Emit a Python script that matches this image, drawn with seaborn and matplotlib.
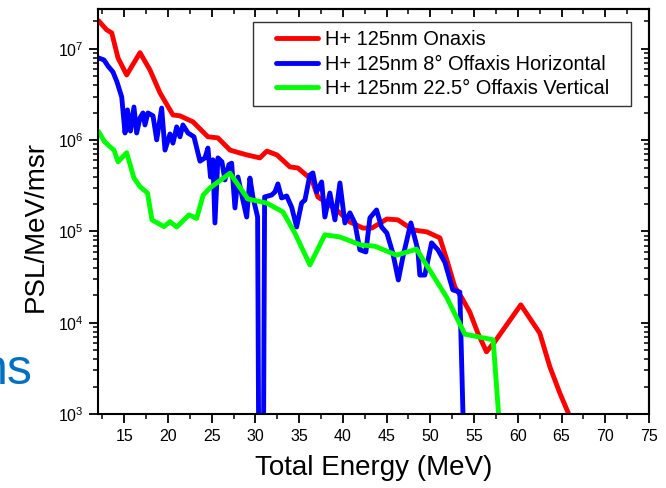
import numpy as np
import pandas as pd
import matplotlib
matplotlib.use("Agg")
import matplotlib.pyplot as plt
import seaborn as sns
from matplotlib.ticker import MultipleLocator, LogLocator, NullFormatter, FuncFormatter
from matplotlib.legend_handler import HandlerLine2D
from matplotlib.lines import Line2D

# ---------------- data ----------------
labels = ["H+ 125nm Onaxis",
          "H+ 125nm 8° Offaxis Horizontal",
          "H+ 125nm 22.5° Offaxis Vertical"]
colors = ["#FF0000", "#0000FF", "#00FF00"]

red_E = [12.08, 12.99, 13.57, 14.29, 15.28, 16.8, 17.94, 19.09, 20.57, 21.37, 22.86,
         24.57, 25.71, 27.09, 27.89, 29.03, 30.51, 31.31, 32.46, 33.94, 34.86, 36.46,
         37.14, 38.17, 39.66, 40.8, 42.29, 43.31, 45.03, 46.29, 48.0, 49.6, 51.09,
         51.89, 52.8, 53.6, 54.51, 55.43, 56.42, 57.37, 60.34, 62.51, 63.66, 64.8, 66.8]
red_v = [2.03e7, 1.62e7, 1.5e7, 7.96e6, 5.19e6, 9.1e6, 5.89e6, 3.3e6, 1.89e6, 1.85e6, 1.59e6,
         1.09e6, 1.06e6, 7.8e5, 7.4e5, 6.9e5, 6.4e5, 7.6e5, 6.9e5, 5.1e5, 4.96e5, 3.67e5,
         2.39e5, 2.05e5, 1.6e5, 1.27e5, 1.09e5, 1.09e5, 1.37e5, 1.34e5, 1.04e5, 9.9e4, 8.5e4,
         4.87e4, 2.47e4, 1.87e4, 1.31e4, 7.7e3, 4.8e3, 6.2e3, 1.57e4, 7.7e3, 3.3e3, 1.7e3, 6e2]

blue_E = [12.08, 12.69, 13.14, 13.71, 14.17, 14.71, 15.09, 15.37, 15.71, 16.11, 16.42,
          16.8, 17.14, 17.37, 17.71, 18.29, 18.71, 19.28, 19.66, 20.23, 20.57, 21.0,
          21.37, 21.71, 22.29, 22.97, 23.66, 24.23, 24.57, 24.86, 25.14, 25.37, 25.71,
          26.17, 26.51, 26.97, 27.28, 27.66, 28.0, 28.57, 29.0, 29.37, 29.71, 30.25,
          30.65, 31.05, 31.85, 32.23, 32.57, 32.99, 33.57, 34.14, 34.71, 35.28, 35.66,
          36.23, 36.57, 36.99, 37.57, 37.94, 38.51, 39.09, 39.66, 40.23, 40.8, 41.37,
          41.94, 42.63, 43.09, 43.85, 44.42, 45.03, 45.71, 46.34, 46.86, 47.77, 48.57,
          48.8, 49.37, 50.14, 50.86, 51.66, 52.57, 53.37, 54.0]
blue_v = [7.96e6, 7.57e6, 6.5e6, 5.6e6, 4.35e6, 2.98e6, 1.2e6, 2.15e6, 1.26e6, 2.31e6, 1.2e6,
          1.75e6, 1.99e6, 1.47e6, 1.99e6, 1.85e6, 1.01e6, 2.25e6, 7.8e5, 1.17e6, 9.3e5, 1.4e6,
          1.09e6, 1.47e6, 1.2e6, 1.09e6, 5.9e5, 6.4e5, 8.2e5, 3.95e5, 6.1e5, 1.24e5, 6.4e5,
          5.8e5, 3.67e5, 5.4e5, 5.6e5, 1.81e5, 3.95e5, 2.2e5, 1.44e5, 3.85e5, 2.39e5, 1.44e5,
          1e-3, 2.39e5, 2.51e5, 2.71e5, 3.32e5, 2.33e5, 2.45e5, 1.85e5, 1.12e5, 2.05e5, 2.21e5,
          4.16e5, 4.38e5, 2.71e5, 3.49e5, 1.44e5, 2.64e5, 1.34e5, 3.4e5, 1.24e5, 1.6e5, 1.24e5,
          6.3e4, 5.96e4, 1.41e5, 1.72e5, 1.12e5, 9.6e4, 5.8e4, 2.94e4, 5.26e4, 1.24e5, 6.3e4,
          3.33e4, 3.33e4, 7.5e4, 6.3e4, 4.6e4, 2.29e4, 2.17e4, 1e2]

green_E = [12.08, 12.69, 13.26, 13.83, 14.29, 15.28, 16.11, 16.8, 17.66, 18.17, 19.54,
           20.23, 21.0, 22.4, 23.28, 24.03, 24.8, 27.09, 29.14, 31.28, 33.14, 34.51,
           36.23, 37.94, 39.66, 42.06, 43.66, 46.14, 48.42, 50.14, 51.85, 53.94, 57.18, 58.2]
green_v = [1.24e6, 9.8e5, 8.65e5, 7.8e5, 5.8e5, 7.3e5, 3.85e5, 3.1e5, 2.64e5, 1.34e5, 1.13e5,
           1.28e5, 1.12e5, 1.52e5, 1.39e5, 2.51e5, 3.0e5, 4.35e5, 2.27e5, 2.05e5, 1.64e5, 9.6e4,
           4.3e4, 9.2e4, 8.7e4, 7.1e4, 6.9e4, 5.5e4, 6.4e4, 3.5e4, 1.91e4, 7.5e3, 6.5e3, 3e2]

x_ticks = [15, 20, 25, 30, 35, 40, 45, 50, 55, 60, 65, 70, 75]
y_ticks = [1e3, 1e4, 1e5, 1e6, 1e7]

# ---------------- style ----------------
sns.set_style("ticks")
plt.rcParams["font.family"] = ["Liberation Sans", "DejaVu Sans"]
plt.rcParams["mathtext.fontset"] = "custom"
plt.rcParams["mathtext.rm"] = "Liberation Sans"
plt.rcParams["mathtext.it"] = "Liberation Sans:italic"
plt.rcParams["mathtext.bf"] = "Liberation Sans:bold"
plt.rcParams["axes.linewidth"] = 1.5
plt.rcParams["axes.edgecolor"] = "black"
plt.rcParams["text.color"] = "black"
plt.rcParams["xtick.color"] = "black"
plt.rcParams["ytick.color"] = "black"
plt.rcParams["axes.labelcolor"] = "black"

fig = plt.figure(figsize=(6.66, 4.88), dpi=100)
ax = fig.add_axes([98 / 666, 1 - 414 / 488, 551 / 666, 405 / 488])

for E, v, c, lab in [(red_E, red_v, colors[0], labels[0]),
                     (blue_E, blue_v, colors[1], labels[1]),
                     (green_E, green_v, colors[2], labels[2])]:
    df = pd.DataFrame({"E": E, "v": v})
    sns.lineplot(data=df, x="E", y="v", estimator=None, sort=False,
                 color=c, lw=3.5, label=lab, ax=ax)

ax.set_yscale("log")
ax.set_xlim(12, 75)
ax.set_ylim(1e3, 2.74e7)

# ticks
ax.set_xticks(x_ticks)
ax.xaxis.set_minor_locator(MultipleLocator(2.5))
ax.set_yticks(y_ticks)
ax.yaxis.set_minor_locator(LogLocator(base=10, subs=np.arange(2, 10), numticks=30))
ax.yaxis.set_minor_formatter(NullFormatter())
ax.yaxis.set_major_formatter(FuncFormatter(
    lambda v, p: r"$\mathregular{10^{%d}}$" % int(round(np.log10(v)))))
ax.tick_params(which="major", direction="out", length=6.5, width=1.3,
               labelsize=11.5, pad=4)
ax.tick_params(which="minor", direction="out", length=3.5, width=1.1)
ax.tick_params(axis="x", top=False)
ax.tick_params(axis="y", right=False)

top = ax.secondary_xaxis("top")
top.set_xticks(x_ticks)
top.xaxis.set_minor_locator(MultipleLocator(2.5))
top.tick_params(which="major", direction="in", length=6, width=1.3, labeltop=False)
top.tick_params(which="minor", direction="in", length=3.5, width=1.1)

right = ax.secondary_yaxis("right")
right.set_yticks(y_ticks)
right.yaxis.set_minor_locator(LogLocator(base=10, subs=np.arange(2, 10), numticks=30))
right.yaxis.set_minor_formatter(NullFormatter())
right.tick_params(which="major", direction="in", length=6, width=1.3, labelright=False)
right.tick_params(which="minor", direction="in", length=3.5, width=1.1)

# labels
ax.set_xlabel("Total Energy (MeV)", fontsize=20)
ax.xaxis.set_label_coords(0.5, -0.101)
ax.set_ylabel("PSL/MeV/msr", fontsize=20)
ax.yaxis.set_label_coords(-0.089, 0.464)

# legend
handles, labs = ax.get_legend_handles_labels()
leg = ax.legend(handles, labs, loc="upper left",
                bbox_to_anchor=(0.2813, 0.90, 0.686, 0.068), mode="expand",
                borderaxespad=0, fontsize=14.4, frameon=True, fancybox=False,
                edgecolor="#333333", framealpha=1, borderpad=0.4,
                labelspacing=0.28, handlelength=3.6, handletextpad=-0.38,
                handler_map={Line2D: HandlerLine2D(numpoints=2, marker_pad=0.73)})
leg.get_frame().set_linewidth(1.0)

# fragment of slide title at left edge
fig.text(33 / 666, 1 - 384 / 488, "ns", color="#0070C0", fontsize=36,
         ha="right", va="baseline")

fig.savefig("out.png", dpi=100)
